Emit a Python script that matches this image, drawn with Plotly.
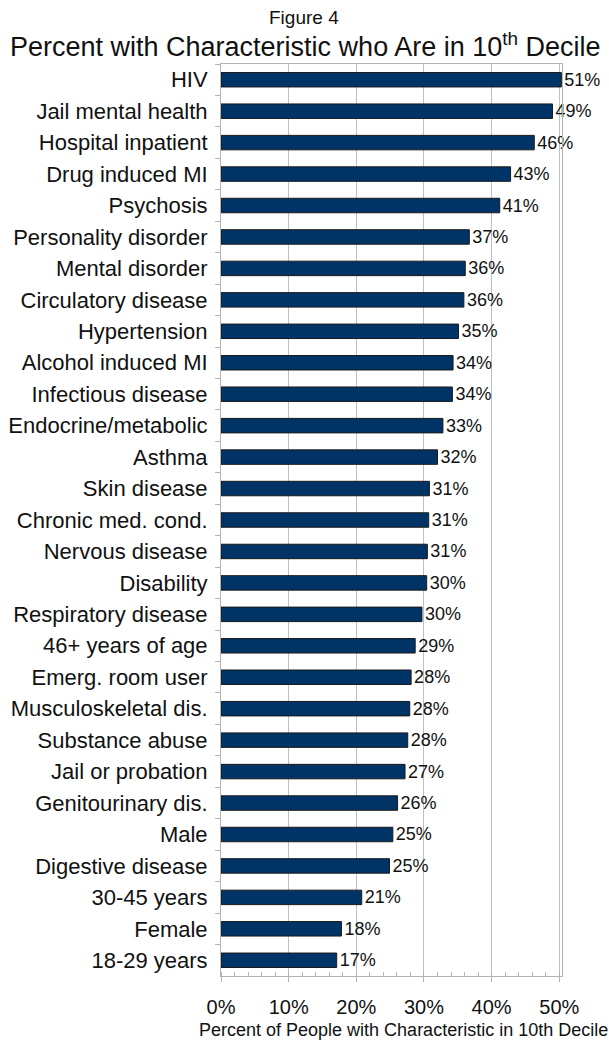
import plotly.graph_objects as go

categories = ["HIV", "Jail mental health", "Hospital inpatient", "Drug induced MI", "Psychosis",
              "Personality disorder", "Mental disorder", "Circulatory disease", "Hypertension",
              "Alcohol induced MI", "Infectious disease", "Endocrine/metabolic", "Asthma",
              "Skin disease", "Chronic med. cond.", "Nervous disease", "Disability",
              "Respiratory disease", "46+ years of age", "Emerg. room user", "Musculoskeletal dis.",
              "Substance abuse", "Jail or probation", "Genitourinary dis.", "Male",
              "Digestive disease", "30-45 years", "Female", "18-29 years"]
values = [50.3, 49.0, 46.3, 42.8, 41.2, 36.7, 36.1, 35.9, 35.1, 34.3, 34.2, 32.8, 32.0,
          30.8, 30.7, 30.5, 30.4, 29.7, 28.7, 28.1, 27.9, 27.6, 27.2, 26.1, 25.4, 24.9,
          20.8, 17.8, 17.1]
labels = ["51%", "49%", "46%", "43%", "41%", "37%", "36%", "36%", "35%", "34%", "34%", "33%",
          "32%", "31%", "31%", "31%", "30%", "30%", "29%", "28%", "28%", "28%", "27%", "26%",
          "25%", "25%", "21%", "18%", "17%"]
x_ticks = [0, 10, 20, 30, 40, 50]
x_ticktext = ["0%", "10%", "20%", "30%", "40%", "50%"]

FONT = "Liberation Sans, Arial, sans-serif"
W, H = 609, 1047
X_MAX = 50.4
L, T, B = 221, 64, 71
pw = round(338 * X_MAX / 50)
R = W - L - pw
ph = H - T - B


def px_x(x):
    return (x - L) / pw


def px_y(y):
    return 1 - (y - T) / ph


fig = go.Figure(go.Bar(
    y=categories, x=values, orientation="h",
    marker=dict(color="#003366", line=dict(color="#1a1a1a", width=1)),
    text=labels, textposition="outside", cliponaxis=False, constraintext="none",
    textfont=dict(family=FONT, size=18, color="#111111"),
    width=0.46,
))

fig.update_layout(
    width=W, height=H,
    margin=dict(l=L, r=R, t=T, b=B, autoexpand=False),
    paper_bgcolor="white", plot_bgcolor="white",
    font=dict(family=FONT, color="#111111"),
    showlegend=False,
    xaxis=dict(
        range=[0, X_MAX], tickvals=x_ticks, ticktext=x_ticktext, automargin=False,
        tickfont=dict(size=20), showgrid=True, gridcolor="#c0c0c0", gridwidth=1,
        showline=True, linecolor="#b3b3b3", linewidth=1, mirror=True,
        ticks="outside", ticklen=5, tickcolor="#b3b3b3", ticklabelstandoff=8,
        minor=dict(dtick=2, ticks="inside", ticklen=4, tickcolor="#b3b3b3", showgrid=False),
        zeroline=False,
    ),
    yaxis=dict(
        autorange="reversed", tickfont=dict(size=22), automargin=False,
        showline=True, linecolor="#b3b3b3", linewidth=1, mirror=True,
        ticks="outside", ticklen=5, tickcolor="#b3b3b3", tickson="boundaries",
        ticklabelstandoff=8, showgrid=False,
    ),
    annotations=[
        dict(text="Figure 4", x=px_x(304), y=px_y(17), xref="paper", yref="paper",
             showarrow=False, font=dict(size=19), xanchor="center", yanchor="middle"),
        dict(text="Percent with Characteristic who Are in 10<sup>th</sup> Decile",
             x=px_x(305), y=px_y(45), xref="paper", yref="paper", showarrow=False,
             font=dict(size=27), xanchor="center", yanchor="middle"),
        dict(text="Percent of People with Characteristic in 10th Decile",
             x=px_x(403), y=px_y(1030), xref="paper", yref="paper", showarrow=False,
             font=dict(size=18), xanchor="center", yanchor="middle"),
    ],
)

fig.write_html("out.html")
